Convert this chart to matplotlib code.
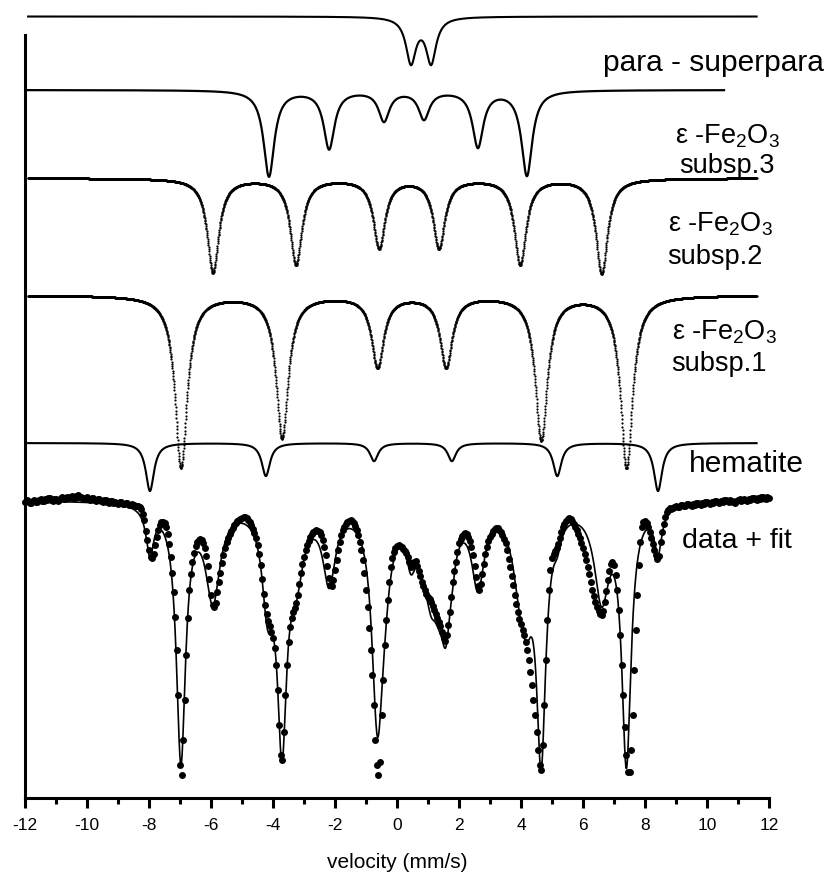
import numpy as np
import matplotlib.pyplot as plt
from matplotlib.ticker import MultipleLocator

plt.rcParams['font.family'] = ['Liberation Sans', 'DejaVu Sans']
plt.rcParams['mathtext.fontset'] = 'custom'
plt.rcParams['mathtext.rm'] = 'Liberation Sans'
plt.rcParams['axes.unicode_minus'] = False

# sub-spectra: line positions (mm/s), line depths (% absorption), line width (mm/s)
para_pos = [0.45, 1.10]
para_depth = [4.5, 4.5]
para_width = 0.39

s3_pos = [-4.13, -2.19, -0.42, 0.87, 2.61, 4.19]
s3_depth = [8.6, 5.8, 3.0, 2.8, 5.6, 8.5]
s3_width = 0.42

s2_pos = [-5.94, -3.26, -0.58, 1.35, 3.97, 6.60]
s2_depth = [9.4, 8.6, 6.9, 6.9, 8.6, 9.5]
s2_width = 0.45

s1_pos = [-6.97, -3.71, -0.63, 1.58, 4.65, 7.40]
s1_depth = [17.2, 14.2, 7.1, 7.1, 14.4, 17.2]
s1_width = 0.47

hem_pos = [-7.97, -4.23, -0.74, 1.77, 5.17, 8.42]
hem_depth = [4.8, 3.3, 1.8, 1.8, 3.3, 4.8]
hem_width = 0.32

# line depths and widths of the same sub-spectra inside the total fit
fit_para = [4.0, 4.0]
fit_s3 = [7.2, 7.3, 3.3, 3.3, 7.6, 6.8]
fit_s2 = [9.3, 6.0, 7.5, 6.5, 5.8, 9.0]
fit_s1 = [25.5, 22.0, 12.3, 8.0, 24.0, 25.5]
fit_hem = [4.6, 2.3, 2.0, 2.0, 1.8, 4.4]
fit_widths = [0.38, 0.48, 0.56, 0.36, 0.30]

# measured spectrum, relative transmission (%), 0.05 mm/s channels
velocity = np.round(np.arange(-240, 241) / 20, 2)
transmission = [
    99.8, 100.0, 99.9, 99.7, 99.7, 99.9, 100.0, 99.8, 99.8, 100.0,
    100.1, 99.9, 99.9, 100.1, 100.0, 100.2, 100.2, 100.0, 99.9, 100.1,   # -12
    100.1, 99.9, 100.0, 100.2, 100.3, 100.1, 100.1, 100.3, 100.2, 100.3,
    100.4, 100.2, 100.2, 100.4, 100.5, 100.3, 100.3, 100.2, 100.1, 100.2,  # -11
    100.3, 100.1, 100.0, 100.2, 100.2, 100.0, 99.9, 100.1, 100.1, 99.9,
    99.8, 100.0, 100.0, 99.8, 99.7, 99.9, 99.9, 99.7, 99.8, 99.7,        # -10
    99.6, 99.8, 99.8, 99.6, 99.6, 99.7, 99.7, 99.5, 99.5, 99.6,
    99.5, 99.4, 99.4, 99.4, 99.3, 99.1, 98.6, 98.0, 96.9, 96.0,          # -9
    95.0, 94.3, 94.2, 94.6, 95.5, 96.3, 97.0, 97.5, 97.8, 97.8,
    97.7, 97.3, 96.6, 95.6, 94.3, 92.7, 90.8, 88.3, 85.0, 80.5,          # -8
    73.5, 72.5, 76.0, 80.0, 84.5, 88.2, 91.0, 92.6, 93.8, 94.7,
    95.4, 95.8, 96.0, 96.1, 96.0, 95.7, 95.2, 94.4, 93.4, 92.1,          # -7
    90.5, 89.5, 89.3, 89.7, 90.8, 91.8, 92.7, 93.7, 94.5, 95.2,
    95.8, 96.2, 96.6, 96.9, 97.2, 97.5, 97.7, 97.9, 98.0, 98.1,          # -6
    98.2, 98.3, 98.3, 98.2, 98.0, 97.8, 97.5, 97.1, 96.7, 96.2,
    95.5, 94.6, 93.5, 92.1, 90.6, 89.5, 88.6, 87.9, 87.4, 86.8,          # -5
    86.2, 85.2, 83.5, 81.0, 77.5, 74.5, 74.0, 76.8, 80.5, 83.5,
    85.8, 87.3, 88.2, 88.8, 89.2, 89.7, 90.5, 91.6, 92.7, 93.6,          # -4
    94.3, 95.0, 95.5, 95.9, 96.3, 96.6, 96.8, 96.9, 97.0, 96.9,
    96.8, 96.5, 96.0, 95.3, 94.5, 93.4, 92.2, 91.5, 91.4, 92.0,          # -3
    93.0, 94.0, 95.0, 95.8, 96.5, 97.0, 97.3, 97.6, 97.8, 97.9,
    98.0, 97.9, 97.7, 97.4, 97.0, 96.5, 95.8, 95.0, 94.0, 92.7,          # -2
    91.0, 89.3, 87.2, 85.0, 82.5, 79.5, 76.0, 73.5, 72.5, 73.8,
    78.5, 82.0, 85.5, 88.0, 90.0, 91.8, 93.3, 94.2, 94.8, 95.2,          # -1
    95.4, 95.5, 95.4, 95.3, 95.1, 94.9, 94.7, 94.3, 93.8, 93.3,
    93.5, 93.8, 93.9, 93.4, 92.9, 92.4, 91.8, 91.4, 91.0, 90.6,          # 0
    90.3, 90.1, 89.8, 89.4, 89.0, 88.6, 88.2, 87.8, 87.4, 86.8,
    86.2, 85.9, 86.5, 87.5, 88.8, 90.3, 91.8, 92.9, 93.8, 94.8,          # 1
    95.7, 96.1, 96.4, 96.6, 96.7, 96.6, 96.3, 95.9, 95.3, 94.5,
    93.4, 92.3, 91.4, 91.0, 91.6, 92.6, 93.6, 94.6, 95.3, 95.9,          # 2
    96.3, 96.6, 96.9, 97.1, 97.2, 97.2, 97.0, 96.8, 96.5, 96.1,
    95.7, 95.0, 94.1, 93.3, 92.4, 91.5, 90.5, 89.6, 88.8, 88.1,          # 3
    87.6, 87.0, 86.5, 85.8, 85.0, 84.0, 82.8, 81.5, 80.0, 78.5,
    76.8, 75.0, 73.5, 73.0, 75.5, 79.5, 84.0, 88.0, 91.0, 93.0,          # 4
    94.2, 94.6, 94.9, 95.2, 95.6, 96.2, 96.8, 97.3, 97.6, 97.9,
    98.1, 98.2, 98.1, 97.9, 97.6, 97.3, 97.0, 96.6, 96.2, 95.7,          # 5
    95.2, 94.6, 94.0, 93.3, 92.6, 91.8, 91.0, 90.4, 89.8, 89.3,
    88.9, 88.6, 88.5, 88.9, 89.8, 90.9, 92.0, 92.9, 93.6, 93.8,          # 6
    93.5, 92.5, 91.0, 89.0, 86.5, 83.5, 80.5, 77.3, 74.5, 72.8,
    72.8, 75.0, 78.5, 83.0, 87.0, 90.5, 93.5, 95.8, 97.3, 97.8,          # 7
    97.9, 97.7, 97.3, 96.8, 96.2, 95.6, 95.0, 94.5, 94.1, 94.4,
    95.8, 96.8, 97.6, 98.3, 98.8, 99.0, 99.2, 99.1, 99.2, 99.3,          # 8
    99.4, 99.3, 99.3, 99.5, 99.5, 99.4, 99.4, 99.6, 99.6, 99.5,
    99.4, 99.6, 99.5, 99.7, 99.7, 99.6, 99.5, 99.7, 99.6, 99.8,          # 9
    99.8, 99.7, 99.6, 99.8, 99.7, 99.9, 99.9, 99.8, 99.7, 99.9,
    99.8, 100.0, 100.0, 99.9, 99.8, 100.0, 99.9, 99.8, 99.7, 99.9,       # 10
    100.0, 100.1, 99.9, 100.0, 100.1, 100.0, 99.9, 100.1, 100.0, 100.2,
    100.2, 100.1, 100.0, 100.2, 100.1, 100.3, 100.3, 100.2, 100.1, 100.3,  # 11
    100.2,                                                               # 12
]

# vertical stacking of the curves
off_para = 148.35
off_s3 = 141.0
off_s2 = 132.2
off_s1 = 120.5
off_hem = 105.7


def sextet(v, pos, depth, width):
    out = np.zeros_like(v)
    for p, d in zip(pos, depth):
        out += d / (1 + (2 * (v - p) / width) ** 2)
    return out


fig = plt.figure(figsize=(8.3, 8.86), dpi=100)
ax = fig.add_axes([25 / 830, 88 / 886, 744 / 830, 790 / 886])

v = np.linspace(-11.9, 11.6, 3000)
v3 = np.linspace(-11.9, 10.55, 3000)

ax.plot(v, off_para - sextet(v, para_pos, para_depth, para_width), color='k', lw=1.5, clip_on=False)
ax.plot(v3, off_s3 - sextet(v3, s3_pos, s3_depth, s3_width), color='k', lw=1.6)
ax.plot(v, off_s2 - sextet(v, s2_pos, s2_depth, s2_width), ls='none', marker='o', ms=1.6, mew=0, color='k')
ax.plot(v, off_s1 - sextet(v, s1_pos, s1_depth, s1_width), ls='none', marker='o', ms=1.6, mew=0, color='k')
ax.plot(v, off_hem - sextet(v, hem_pos, hem_depth, hem_width), color='k', lw=1.5)

# total fit
vf = np.linspace(-12, 12, 3000)
fit_lines = [(para_pos, fit_para), (s3_pos, fit_s3), (s2_pos, fit_s2),
             (s1_pos, fit_s1), (hem_pos, fit_hem)]
fit = np.full_like(vf, 100.0)
for (pos, depth), w in zip(fit_lines, fit_widths):
    fit -= sextet(vf, pos, depth, w)

ax.plot(velocity, transmission, ls='none', marker='o', ms=5, mew=0, color='k', clip_on=False, zorder=3)
ax.plot(vf, fit, color='k', lw=1.2, zorder=4)

# labels
eps = r'ε -Fe$_2$O$_3$'
ax.text(13.77, 142.9, 'para - superpara', fontsize=21.5, ha='right', va='baseline')
ax.text(10.65, 135.7, eps, fontsize=19.5, ha='center', va='baseline')
ax.text(10.65, 132.7, 'subsp.3', fontsize=19.5, ha='center', va='baseline')
ax.text(10.42, 126.8, eps, fontsize=19.5, ha='center', va='baseline')
ax.text(10.25, 123.6, 'subsp.2', fontsize=19.5, ha='center', va='baseline')
ax.text(10.58, 116.0, eps, fontsize=19.5, ha='center', va='baseline')
ax.text(10.40, 112.9, 'subsp.1', fontsize=19.5, ha='center', va='baseline')
ax.text(9.42, 102.8, 'hematite', fontsize=21.5, ha='left', va='baseline')
ax.text(9.19, 95.2, 'data + fit', fontsize=20.5, ha='left', va='baseline')

ax.set_xlim(-12, 12)
ax.set_ylim(70.2, 149.2)
ax.spines['top'].set_visible(False)
ax.spines['right'].set_visible(False)
ax.spines['left'].set_bounds(70.2, 146.5)
ax.spines['left'].set_linewidth(2.2)
ax.spines['bottom'].set_linewidth(2.2)
ax.set_yticks([])
ax.xaxis.set_major_locator(MultipleLocator(2))
ax.xaxis.set_minor_locator(MultipleLocator(1))
ax.tick_params(axis='x', which='major', direction='out', length=7.5, width=2.2, labelsize=12.5, pad=7)
ax.tick_params(axis='x', which='minor', direction='out', length=4.5, width=2.2)
ax.set_xlabel('velocity (mm/s)', fontsize=15, labelpad=14)

fig.savefig('out.png', dpi=100)
